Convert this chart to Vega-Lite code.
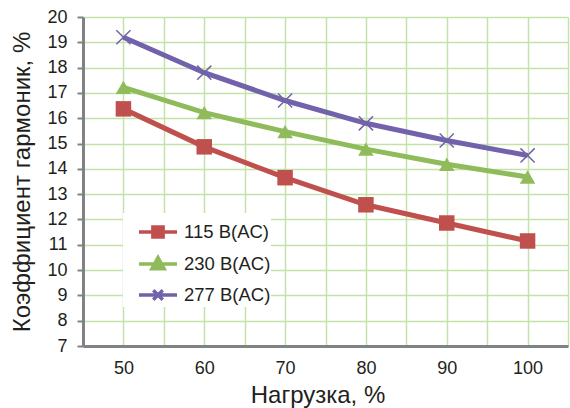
{
  "$schema": "https://vega.github.io/schema/vega-lite/v6.json",
  "width": 485,
  "height": 329,
  "autosize": {"type": "none"},
  "padding": {"left": 83, "top": 17, "right": 2, "bottom": 62},
  "background": "white",
  "config": {
    "font": "Liberation Sans",
    "view": {"stroke": null},
    "axis": {
      "labelFont": "Liberation Sans",
      "titleFont": "Liberation Sans",
      "labelFontSize": 18,
      "titleFontSize": 24,
      "labelColor": "#231f20",
      "titleColor": "#231f20",
      "titleFontWeight": "normal",
      "gridColor": "#c4e1a9",
      "gridWidth": 1.5,
      "gridOpacity": 1,
      "domainColor": "#808285",
      "domainWidth": 3,
      "tickColor": "#808285",
      "tickWidth": 2
    }
  },
  "data": {
    "values": [
      {"load": 50, "series": "115 В(AC)", "k": 16.37},
      {"load": 60, "series": "115 В(AC)", "k": 14.87},
      {"load": 70, "series": "115 В(AC)", "k": 13.65},
      {"load": 80, "series": "115 В(AC)", "k": 12.58},
      {"load": 90, "series": "115 В(AC)", "k": 11.86},
      {"load": 100, "series": "115 В(AC)", "k": 11.15},
      {"load": 50, "series": "230 В(AC)", "k": 17.22},
      {"load": 60, "series": "230 В(AC)", "k": 16.22},
      {"load": 70, "series": "230 В(AC)", "k": 15.47},
      {"load": 80, "series": "230 В(AC)", "k": 14.78},
      {"load": 90, "series": "230 В(AC)", "k": 14.18},
      {"load": 100, "series": "230 В(AC)", "k": 13.68},
      {"load": 50, "series": "277 В(AC)", "k": 19.2},
      {"load": 60, "series": "277 В(AC)", "k": 17.8},
      {"load": 70, "series": "277 В(AC)", "k": 16.7},
      {"load": 80, "series": "277 В(AC)", "k": 15.8},
      {"load": 90, "series": "277 В(AC)", "k": 15.12},
      {"load": 100, "series": "277 В(AC)", "k": 14.53}
    ]
  },
  "encoding": {
    "x": {
      "field": "load",
      "type": "quantitative",
      "scale": {"domain": [45, 105], "nice": false, "zero": false},
      "axis": {
        "title": "Нагрузка, %",
        "values": [45, 50, 55, 60, 65, 70, 75, 80, 85, 90, 95, 100, 105],
        "labelExpr": "datum.value % 10 == 0 && datum.value >= 50 && datum.value <= 100 ? datum.label : ''",
        "ticks": false,
        "labelPadding": 13,
        "titlePadding": 6,
        "titleX": 234.5,
        "labelFlush": false
      }
    },
    "y": {
      "field": "k",
      "type": "quantitative",
      "scale": {"domain": [7, 20], "nice": false, "zero": false},
      "axis": {
        "title": "Коэффициент гармоник, %",
        "values": [7, 8, 9, 10, 11, 12, 13, 14, 15, 16, 17, 18, 19, 20],
        "tickSize": 6,
        "labelPadding": 10,
        "titlePadding": 12,
        "labelFlush": false
      }
    },
    "color": {
      "field": "series",
      "type": "nominal",
      "scale": {
        "domain": ["115 В(AC)", "230 В(AC)", "277 В(AC)"],
        "range": ["#c0504d", "#8fbb5a", "#7262ab"]
      },
      "legend": {
        "title": null,
        "orient": "none",
        "legendX": 40,
        "legendY": 196,
        "padding": 0,
        "symbolOffset": 16,
        "fillColor": "white",
        "symbolSize": 1156,
        "rowPadding": 0,
        "labelOffset": 7,
        "labelFontSize": 18.5,
        "labelFont": "Liberation Sans",
        "labelColor": "#231f20",
        "encode": {
          "symbols": {
            "update": {
              "shape": {"signal": "datum.value == '115 В(AC)' ? 'M-1.12,0L1.12,0M-0.3,-0.3H0.3V0.3H-0.3Z' : datum.value == '230 В(AC)' ? 'M-1.12,0L1.12,0M0,-0.38L0.36,0.28L-0.36,0.28Z' : 'M-1.12,0L1.12,0M-0.28,-0.28L0.28,0.28M0.28,-0.28L-0.28,0.28'"},
              "fill": {"scale": "color", "field": "value"},
              "stroke": {"scale": "color", "field": "value"},
              "strokeWidth": {"value": 3.5},
              "opacity": {"value": 1},
              "fillOpacity": {"value": 1},
              "strokeOpacity": {"value": 1}
            }
          }
        }
      }
    }
  },
  "layer": [
    {
      "mark": {"type": "line", "strokeWidth": 5}
    },
    {
      "transform": [{"filter": "datum.series == '115 В(AC)'"}],
      "mark": {"type": "point", "filled": true, "size": 240, "opacity": 1, "shape": "square"}
    },
    {
      "transform": [{"filter": "datum.series == '230 В(AC)'"}],
      "mark": {"type": "point", "filled": true, "size": 240, "opacity": 1, "shape": "triangle-up"}
    },
    {
      "transform": [{"filter": "datum.series == '277 В(AC)'"}],
      "mark": {"type": "point", "filled": false, "size": 200, "opacity": 1, "strokeWidth": 1.5, "shape": "M-1,-1L1,1M1,-1L-1,1"}
    }
  ]
}
